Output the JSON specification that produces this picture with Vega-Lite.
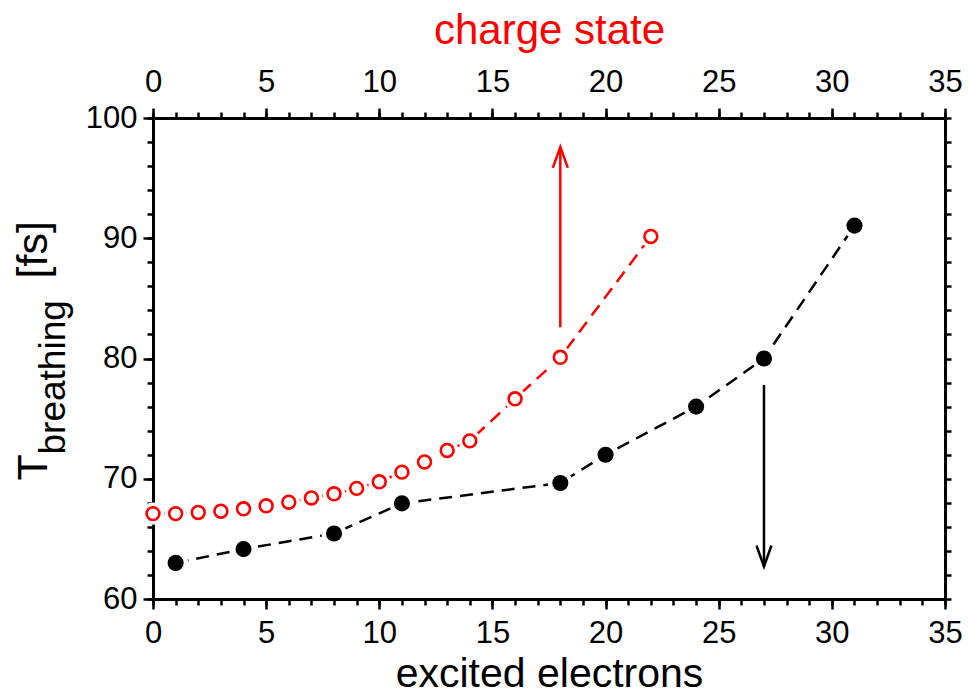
{
  "$schema": "https://vega.github.io/schema/vega-lite/v6.json",
  "autosize": {"type": "none"},
  "width": 792,
  "height": 481,
  "padding": {"left": 153, "top": 118, "right": 23, "bottom": 96},
  "background": "white",
  "config": {
    "view": {"stroke": null},
    "font": "Liberation Sans",
    "axis": {
      "grid": false,
      "domainColor": "black",
      "domainWidth": 3,
      "tickColor": "black",
      "tickWidth": 2.5,
      "labelFont": "Liberation Sans",
      "labelFontSize": 31,
      "labelColor": "black",
      "titleFont": "Liberation Sans",
      "titleFontWeight": "normal",
      "titleColor": "black",
      "labelFlush": false,
      "labelOverlap": false
    }
  },
  "datasets": {
    "excited": [
      {"e": 1, "t": 63.0},
      {"e": 4, "t": 64.15},
      {"e": 8, "t": 65.45},
      {"e": 11, "t": 67.95},
      {"e": 18, "t": 69.65},
      {"e": 20, "t": 72.0},
      {"e": 24, "t": 76.0},
      {"e": 27, "t": 80.0},
      {"e": 31, "t": 91.05}
    ],
    "charge": [
      {"c": 0, "t": 67.1},
      {"c": 1, "t": 67.1},
      {"c": 2, "t": 67.2},
      {"c": 3, "t": 67.3},
      {"c": 4, "t": 67.5},
      {"c": 5, "t": 67.75},
      {"c": 6, "t": 68.05},
      {"c": 7, "t": 68.4},
      {"c": 8, "t": 68.75},
      {"c": 9, "t": 69.2},
      {"c": 10, "t": 69.75},
      {"c": 11, "t": 70.55},
      {"c": 12, "t": 71.4},
      {"c": 13, "t": 72.35},
      {"c": 14, "t": 73.15},
      {"c": 16, "t": 76.65},
      {"c": 18, "t": 80.1},
      {"c": 22, "t": 90.15}
    ],
    "arrowDown": [{"x": 27, "start": 77.8, "tip": 62.7}],
    "arrowUp": [{"x": 18, "start": 82.6, "tip": 97.6}]
  },
  "layer": [
    {
      "data": {"name": "excited"},
      "encoding": {
        "x": {
          "field": "e", "type": "quantitative",
          "scale": {"domain": [0, 35], "nice": false, "zero": false},
          "axis": {
            "orient": "bottom",
            "values": [0, 5, 10, 15, 20, 25, 30, 35],
            "tickSize": 10, "labelPadding": 9,
            "title": "excited electrons",
            "titleFontSize": 41,
            "titleBaseline": "alphabetic",
            "titleAlign": "center",
            "titleX": 396,
            "titleY": 87
          }
        },
        "y": {
          "field": "t", "type": "quantitative",
          "scale": {"domain": [60, 100], "nice": false, "zero": false},
          "axis": {
            "orient": "left",
            "values": [60, 70, 80, 90, 100],
            "tickSize": 10, "labelPadding": 6,
            "title": "T",
            "titleFontSize": 43,
            "titleAngle": -90,
            "titleAlign": "left",
            "titleBaseline": "alphabetic",
            "titleX": -107,
            "titleY": 362
          }
        }
      },
      "layer": [
        {"mark": {"type": "line", "color": "black", "strokeWidth": 2.5, "strokeDash": [13, 8]}},
        {"mark": {"type": "circle", "color": "white", "opacity": 1, "size": 620}},
        {"mark": {"type": "circle", "color": "black", "opacity": 1, "size": 260}}
      ]
    },
    {
      "data": {"name": "charge"},
      "encoding": {
        "x": {
          "field": "c", "type": "quantitative",
          "scale": {"domain": [0, 35], "nice": false, "zero": false},
          "axis": {
            "orient": "top",
            "values": [0, 5, 10, 15, 20, 25, 30, 35],
            "tickSize": 10, "labelPadding": 10,
            "title": "charge state",
            "titleColor": "#ff0000",
            "titleFontSize": 42,
            "titleBaseline": "alphabetic",
            "titleAlign": "center",
            "titleX": 396,
            "titleY": -75
          }
        },
        "y": {
          "field": "t", "type": "quantitative",
          "scale": {"domain": [60, 100], "nice": false, "zero": false},
          "axis": {
            "orient": "right",
            "values": [60, 62, 64, 66, 68, 70, 72, 74, 76, 78, 80, 82, 84, 86, 88, 90, 92, 94, 96, 98, 100],
            "tickSize": 6,
            "labels": false,
            "title": null
          }
        }
      },
      "layer": [
        {"mark": {"type": "line", "color": "#ff0000", "strokeWidth": 2.5, "strokeDash": [13, 8]}},
        {"mark": {"type": "circle", "color": "white", "opacity": 1, "size": 500}},
        {"mark": {"type": "circle", "fill": "white", "stroke": "#ff0000", "strokeWidth": 2.6, "opacity": 1, "fillOpacity": 1, "size": 165}}
      ]
    },
    {
      "data": {"name": "arrowDown"},
      "encoding": {
        "x": {
          "field": "x", "type": "quantitative",
          "scale": {"domain": [0, 35], "nice": false, "zero": false},
          "axis": {
            "orient": "bottom",
            "values": [0,1,2,3,4,5,6,7,8,9,10,11,12,13,14,15,16,17,18,19,20,21,22,23,24,25,26,27,28,29,30,31,32,33,34,35],
            "tickSize": 6, "labels": false, "domain": false, "title": null
          }
        },
        "y": {
          "field": "tip", "type": "quantitative",
          "scale": {"domain": [60, 100], "nice": false, "zero": false},
          "axis": {
            "orient": "left",
            "values": [60, 62, 64, 66, 68, 70, 72, 74, 76, 78, 80, 82, 84, 86, 88, 90, 92, 94, 96, 98, 100],
            "tickSize": 6, "labels": false, "domain": false,
            "title": "breathing",
            "titleFontSize": 37,
            "titleAngle": -90,
            "titleAlign": "left",
            "titleBaseline": "alphabetic",
            "titleX": -89,
            "titleY": 336
          }
        }
      },
      "layer": [
        {"mark": {"type": "rule", "color": "black", "strokeWidth": 2.5}, "encoding": {"y2": {"field": "start"}}},
        {"mark": {"type": "point", "shape": "M-1,-2.8L0,0L1,-2.8", "filled": false, "color": "black", "strokeWidth": 2.5, "opacity": 1, "size": 225, "strokeJoin": "miter"}}
      ]
    },
    {
      "data": {"name": "arrowUp"},
      "encoding": {
        "x": {
          "field": "x", "type": "quantitative",
          "scale": {"domain": [0, 35], "nice": false, "zero": false},
          "axis": {
            "orient": "top",
            "values": [0,1,2,3,4,5,6,7,8,9,10,11,12,13,14,15,16,17,18,19,20,21,22,23,24,25,26,27,28,29,30,31,32,33,34,35],
            "tickSize": 6, "labels": false, "domain": false, "title": null
          }
        },
        "y": {
          "field": "tip", "type": "quantitative",
          "scale": {"domain": [60, 100], "nice": false, "zero": false},
          "axis": {
            "orient": "left",
            "ticks": false, "labels": false, "domain": false,
            "title": "[fs]",
            "titleFontSize": 43,
            "titleAngle": -90,
            "titleAlign": "left",
            "titleBaseline": "alphabetic",
            "titleX": -107,
            "titleY": 160
          }
        }
      },
      "layer": [
        {"mark": {"type": "rule", "color": "#ff0000", "strokeWidth": 2.5}, "encoding": {"y2": {"field": "start"}}},
        {"mark": {"type": "point", "shape": "M-1,2.8L0,0L1,2.8", "filled": false, "color": "#ff0000", "strokeWidth": 2.5, "opacity": 1, "size": 225, "strokeJoin": "miter"}}
      ]
    }
  ],
  "resolve": {"scale": {"x": "independent", "y": "independent"}}
}
